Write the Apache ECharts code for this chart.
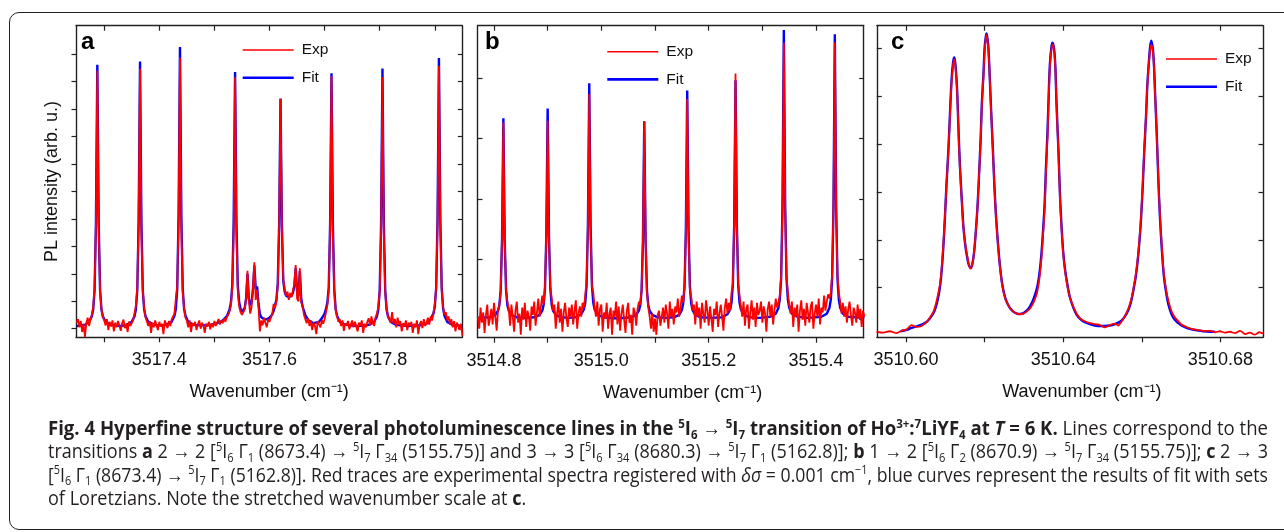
<!DOCTYPE html>
<html><head><meta charset="utf-8">
<script src="https://cdn.jsdelivr.net/npm/echarts@6/dist/echarts.min.js"></script>
<style>
html,body{margin:0;padding:0;background:#fff;width:1284px;height:532px;overflow:hidden;}
#frame{position:absolute;left:9px;top:12px;width:1300px;height:518px;border:1.7px solid #222;border-radius:10px;box-sizing:border-box;}
#chart{position:absolute;left:0;top:0;width:1284px;height:532px;}
#cap{position:absolute;left:48px;top:416px;width:1220px;font-family:"Liberation Sans Narrow","Open Sans","Noto Sans",sans-serif;font-size:19.5px;color:#231f20;}
.ln{height:23.3px;line-height:23.3px;white-space:nowrap;}
.ln .t{display:inline-block;transform-origin:0 50%;}
sup,sub{font-size:62%;line-height:0;position:relative;vertical-align:baseline;}
sup{top:-0.6em;} sub{top:0.3em;}
</style></head>
<body>
<div id="frame"></div>
<div id="chart"></div>
<div id="cap">
<div class="ln"><span class="t"><b>Fig. 4 Hyperfine structure of several photoluminescence lines in the <sup>5</sup>I<sub>6</sub> → <sup>5</sup>I<sub>7</sub> transition of Ho<sup>3+</sup>:<sup>7</sup>LiYF<sub>4</sub> at <i>T</i> = 6 K.</b> Lines correspond to the</span></div>
<div class="ln"><span class="t">transitions <b>a</b> 2 → 2 [<sup>5</sup>I<sub>6</sub> Γ<sub>1</sub> (8673.4) → <sup>5</sup>I<sub>7</sub> Γ<sub>34</sub> (5155.75)] and 3 → 3 [<sup>5</sup>I<sub>6</sub> Γ<sub>34</sub> (8680.3) → <sup>5</sup>I<sub>7</sub> Γ<sub>1</sub> (5162.8)]; <b>b</b> 1 → 2 [<sup>5</sup>I<sub>6</sub> Γ<sub>2</sub> (8670.9) → <sup>5</sup>I<sub>7</sub> Γ<sub>34</sub> (5155.75)]; <b>c</b> 2 → 3</span></div>
<div class="ln"><span class="t">[<sup>5</sup>I<sub>6</sub> Γ<sub>1</sub> (8673.4) → <sup>5</sup>I<sub>7</sub> Γ<sub>1</sub> (5162.8)]. Red traces are experimental spectra registered with <i>δσ</i> = 0.001 cm<sup>−1</sup>, blue curves represent the results of fit with sets</span></div>
<div class="ln"><span class="t">of Loretzians. Note the stretched wavenumber scale at <b>c</b>.</span></div>
</div>
<script>
// ---------- DATA ----------
// Panel a: experimental trace on a uniform grid (start, step), fit as [x, y]
const expAStart = 3517.25, expAStep = 0.0025;
const expA = [
0.22,0.35,0.05,0.28,-0.12,0.18,-0.30,0.20,0.40,0.10,
0.32,0.50,0.80,1.45,3.80,9.39,3.60,1.35,0.70,0.45,
0.30,0.12,0.35,-0.05,0.25,0.08,0.30,-0.10,0.22,0.05,
0.28,0.12,-0.08,0.20,0.33,0.02,0.18,-0.12,0.26,0.10,
0.20,0.32,0.55,0.85,1.50,3.90,9.46,3.50,1.40,0.75,
0.42,0.35,0.10,0.28,-0.15,0.22,0.05,0.30,0.12,-0.05,
0.25,0.08,0.18,-0.20,0.30,0.15,0.02,0.28,0.10,0.35,
0.30,0.55,1.10,1.55,4.00,9.87,3.70,1.35,0.72,0.40,
0.28,0.05,0.30,-0.12,0.20,0.10,0.25,-0.05,0.15,0.30,
0.00,0.22,0.12,-0.15,0.18,0.08,0.25,-0.02,0.20,0.05,
0.28,0.10,0.22,0.35,0.15,0.30,0.20,0.38,0.25,0.42,
0.50,0.62,0.85,1.50,3.60,9.16,3.40,1.30,0.80,0.60,
0.50,0.55,0.70,1.10,2.11,1.00,0.55,0.80,1.50,2.42,
1.05,1.41,0.80,-0.10,0.30,0.12,0.40,0.22,0.05,0.35,
0.25,0.40,0.55,0.90,0.75,1.00,1.60,3.80,8.36,3.60,
1.80,1.45,1.20,1.35,1.05,1.30,1.15,1.40,1.60,2.32,
1.10,1.00,2.20,0.95,0.85,0.50,0.45,0.20,0.38,0.10,
0.30,-0.05,0.22,0.10,-0.20,0.28,0.15,0.05,0.32,0.18,
0.35,0.60,0.85,1.40,3.70,9.20,3.50,1.35,0.70,0.45,
0.25,0.35,0.10,0.30,-0.08,0.20,0.12,0.28,-0.02,0.15,
0.30,0.05,0.25,0.18,-0.10,0.22,0.10,0.30,-0.15,0.18,
0.05,0.25,0.38,0.12,0.45,0.20,0.10,0.42,0.55,0.80,
1.35,3.60,9.16,3.40,1.30,0.75,0.45,0.50,0.22,0.60,
0.18,0.35,0.05,0.40,0.15,0.28,-0.10,0.20,0.08,0.30,
-0.05,0.22,0.10,0.25,-0.15,0.18,0.05,0.30,-0.20,0.15,
0.28,0.02,0.35,0.10,0.20,0.40,0.15,0.45,0.30,0.55,
0.90,1.50,3.90,9.57,3.70,1.40,0.80,0.50,0.60,0.30,
0.45,0.15,0.35,0.05,0.28,-0.10,0.22,0.10,-0.05,0.18,
-0.25
];
const fitA = [
[3517.25,0.10],[3517.265,0.14],[3517.2725,0.25],[3517.2775,0.45],[3517.28,0.70],[3517.2825,1.40],[3517.285,3.85],[3517.2875,9.61],[3517.29,3.85],[3517.2925,1.40],[3517.295,0.70],[3517.2975,0.45],[3517.3025,0.25],[3517.3125,0.14],[3517.33,0.10],
[3517.34,0.13],[3517.35,0.25],[3517.355,0.45],[3517.3575,0.70],[3517.36,1.40],[3517.3625,3.90],[3517.365,9.73],[3517.3675,3.90],[3517.37,1.40],[3517.3725,0.70],[3517.375,0.45],[3517.38,0.25],[3517.39,0.14],[3517.405,0.12],
[3517.4125,0.14],[3517.4225,0.25],[3517.4275,0.47],[3517.43,0.72],[3517.4325,1.45],[3517.435,4.10],[3517.4375,10.25],[3517.44,4.10],[3517.4425,1.45],[3517.445,0.72],[3517.4475,0.47],[3517.4525,0.25],[3517.4625,0.14],[3517.48,0.12],
[3517.495,0.15],[3517.505,0.20],[3517.515,0.30],[3517.5225,0.45],[3517.5275,0.70],[3517.53,0.95],[3517.5325,1.60],[3517.535,3.95],[3517.5375,9.34],[3517.54,3.85],[3517.5425,1.55],[3517.545,0.95],[3517.5475,0.72],[3517.55,0.62],[3517.5525,0.62],[3517.555,0.75],[3517.5575,1.10],[3517.56,2.00],[3517.5625,1.10],[3517.565,0.85],[3517.5675,0.95],[3517.57,1.45],[3517.5725,2.30],[3517.575,1.45],[3517.5775,1.53],[3517.58,0.90],[3517.5825,0.55],[3517.585,0.42],[3517.59,0.35],[3517.595,0.34],[3517.60,0.40],[3517.605,0.52],[3517.6075,0.65],[3517.61,0.85],[3517.6125,1.05],[3517.615,1.65],[3517.6175,3.80],[3517.62,8.38],[3517.6225,3.70],[3517.625,1.75],[3517.6275,1.35],[3517.63,1.20],[3517.635,1.15],[3517.64,1.20],[3517.6425,1.30],[3517.645,1.55],[3517.6475,2.20],[3517.65,1.40],[3517.6525,1.20],[3517.655,2.10],[3517.6575,1.10],[3517.66,0.80],[3517.665,0.50],[3517.67,0.32],[3517.68,0.20],[3517.69,0.25],[3517.695,0.38],[3517.70,0.55],[3517.7025,0.72],[3517.705,0.95],[3517.7075,1.50],[3517.71,3.80],[3517.7125,9.30],[3517.715,3.80],[3517.7175,1.45],[3517.72,0.72],[3517.7225,0.47],[3517.7275,0.25],[3517.7375,0.14],[3517.76,0.10],
[3517.78,0.14],[3517.79,0.25],[3517.795,0.45],[3517.7975,0.70],[3517.80,1.40],[3517.8025,3.80],[3517.805,9.47],[3517.8075,3.80],[3517.81,1.40],[3517.8125,0.70],[3517.815,0.45],[3517.82,0.25],[3517.83,0.14],[3517.85,0.10],
[3517.875,0.13],[3517.8875,0.20],[3517.8925,0.35],[3517.8975,0.55],[3517.90,0.80],[3517.9025,1.50],[3517.905,4.00],[3517.9075,9.85],[3517.91,4.00],[3517.9125,1.50],[3517.915,0.75],[3517.9175,0.47],[3517.9225,0.25],[3517.9325,0.14],[3517.95,0.10]
];

// Panel b
const expBStart = 3514.77, expBStep = 0.0025;
const expB = [
0.05,-0.15,0.20,-0.05,0.12,-0.22,0.08,0.25,-0.10,0.02,
0.18,-0.08,0.28,0.05,-0.18,0.15,0.25,0.45,1.35,3.27,
1.30,0.50,0.30,0.18,-0.10,0.25,0.05,-0.20,0.15,0.30,
-0.05,0.10,-0.25,0.20,0.00,0.28,-0.12,0.15,0.05,-0.18,
0.22,0.08,0.30,-0.10,0.12,0.35,0.05,0.22,0.40,0.25,
0.55,1.40,3.30,1.30,0.55,0.35,0.15,0.25,-0.15,0.10,
0.30,-0.05,0.18,-0.20,0.12,0.28,0.02,-0.12,0.20,0.05,
0.25,-0.08,0.15,0.32,-0.15,0.10,0.22,0.05,0.28,0.20,
0.40,0.65,1.55,3.74,1.45,0.55,0.45,0.20,0.05,0.30,
-0.10,0.18,0.25,-0.20,0.12,0.02,0.28,-0.15,0.10,0.20,
-0.25,0.15,0.05,0.30,-0.08,0.22,-0.18,0.10,0.25,0.00,
-0.22,0.15,0.28,-0.05,0.08,-0.25,0.20,0.12,-0.10,0.18,
0.30,0.25,0.50,1.30,3.29,1.35,0.45,0.20,0.05,-0.15,
0.10,-0.20,0.02,-0.25,0.08,0.15,-0.10,0.05,0.20,-0.05,
0.25,0.10,-0.15,0.30,0.05,0.18,-0.08,0.22,0.12,0.35,
0.05,0.20,0.40,0.28,0.55,1.45,3.66,1.40,0.50,0.38,
0.15,0.25,-0.08,0.30,0.05,0.20,-0.15,0.28,0.10,-0.05,
0.32,0.15,-0.10,0.22,0.02,-0.20,0.18,0.08,0.30,-0.12,
0.10,0.25,0.05,-0.18,0.20,0.35,0.10,0.28,0.15,0.45,
0.60,1.60,4.08,1.55,0.60,0.40,0.22,0.05,0.30,-0.10,
0.18,0.25,-0.15,0.12,0.32,0.00,0.20,-0.12,0.28,0.08,
0.15,0.30,-0.05,0.22,0.10,-0.20,0.18,0.30,0.05,0.25,
-0.08,0.15,0.35,0.20,0.28,0.40,0.72,1.85,4.59,1.80,
0.70,0.45,0.25,0.10,0.30,-0.12,0.20,0.05,0.25,-0.20,
0.15,0.32,0.00,0.18,-0.10,0.28,0.12,-0.05,0.22,0.30,
-0.15,0.10,0.25,0.05,0.35,-0.08,0.20,0.12,0.40,0.15,
0.30,0.42,0.35,0.45,0.75,1.90,4.60,1.80,0.72,0.45,
0.30,0.10,0.28,0.05,0.22,-0.05,0.18,0.30,0.08,-0.10,
0.20,0.12,-0.05,0.25,0.02,0.18,-0.12,0.15,0.05
];
const fitB = [
[3514.77,0.03],[3514.7925,0.04],[3514.8025,0.08],[3514.8075,0.15],[3514.81,0.24],[3514.8125,0.49],[3514.815,1.32],[3514.8175,3.34],[3514.82,1.32],[3514.8225,0.49],[3514.825,0.24],[3514.8275,0.15],[3514.8325,0.08],[3514.8425,0.04],[3514.86,0.03],
[3514.875,0.04],[3514.885,0.08],[3514.89,0.15],[3514.8925,0.25],[3514.895,0.51],[3514.8975,1.38],[3514.90,3.50],[3514.9025,1.38],[3514.905,0.51],[3514.9075,0.25],[3514.91,0.15],[3514.915,0.08],[3514.925,0.04],[3514.94,0.03],
[3514.9525,0.04],[3514.9625,0.09],[3514.9675,0.17],[3514.97,0.28],[3514.9725,0.57],[3514.975,1.55],[3514.9775,3.92],[3514.98,1.55],[3514.9825,0.57],[3514.985,0.28],[3514.9875,0.17],[3514.9925,0.09],[3515.0025,0.04],[3515.03,0.02],
[3515.055,0.04],[3515.065,0.08],[3515.07,0.15],[3515.0725,0.24],[3515.075,0.48],[3515.0775,1.30],[3515.08,3.29],[3515.0825,1.30],[3515.085,0.48],[3515.0875,0.24],[3515.09,0.15],[3515.095,0.08],[3515.105,0.04],[3515.12,0.03],
[3515.135,0.04],[3515.145,0.08],[3515.15,0.16],[3515.1525,0.27],[3515.155,0.55],[3515.1575,1.50],[3515.16,3.80],[3515.1625,1.50],[3515.165,0.55],[3515.1675,0.27],[3515.17,0.16],[3515.175,0.08],[3515.185,0.04],[3515.205,0.03],
[3515.225,0.04],[3515.235,0.09],[3515.24,0.17],[3515.2425,0.28],[3515.245,0.58],[3515.2475,1.57],[3515.25,3.97],[3515.2525,1.57],[3515.255,0.58],[3515.2575,0.28],[3515.26,0.17],[3515.265,0.09],[3515.275,0.04],[3515.295,0.03],
[3515.315,0.05],[3515.325,0.10],[3515.33,0.20],[3515.3325,0.34],[3515.335,0.69],[3515.3375,1.89],[3515.34,4.80],[3515.3425,1.89],[3515.345,0.69],[3515.3475,0.34],[3515.35,0.20],[3515.355,0.10],[3515.365,0.05],[3515.385,0.03],
[3515.41,0.05],[3515.42,0.10],[3515.425,0.20],[3515.4275,0.33],[3515.43,0.68],[3515.4325,1.86],[3515.435,4.73],[3515.4375,1.86],[3515.44,0.68],[3515.4425,0.33],[3515.445,0.20],[3515.45,0.10],[3515.46,0.05],[3515.49,0.03]
];

// Panel c (stretched scale): [wavenumber, intensity]
const expC = [
[3510.5925,0.08],[3510.5942,0.06],[3510.5959,0.09],[3510.5976,0.05],[3510.5989,0.10],[3510.6002,0.13],[3510.6014,0.22],[3510.6027,0.18],[3510.6040,0.20],[3510.6053,0.29],
[3510.6061,0.38],[3510.6070,0.50],[3510.6076,0.66],[3510.6082,0.88],[3510.6087,1.10],[3510.6091,1.44],[3510.6095,1.90],[3510.6099,2.48],[3510.6103,3.15],[3510.6108,3.87],
[3510.6112,4.62],[3510.6116,5.30],[3510.6120,5.66],[3510.6123,5.77],[3510.6126,5.60],[3510.6130,5.10],[3510.6133,4.40],[3510.6137,3.53],[3510.6142,2.80],[3510.6146,2.27],
[3510.6151,1.90],[3510.6156,1.65],[3510.6160,1.48],[3510.6165,1.40],[3510.6169,1.50],[3510.6173,1.72],[3510.6177,2.10],[3510.6182,2.69],[3510.6186,3.35],[3510.6190,4.08],
[3510.6193,4.80],[3510.6197,5.40],[3510.6200,5.95],[3510.6203,6.20],[3510.6205,6.28],[3510.6209,6.05],[3510.6212,5.61],[3510.6216,4.80],[3510.6221,3.87],[3510.6225,3.10],
[3510.6229,2.48],[3510.6234,1.90],[3510.6239,1.44],[3510.6244,1.10],[3510.6249,0.88],[3510.6254,0.74],[3510.6260,0.64],[3510.6266,0.56],[3510.6273,0.50],[3510.6282,0.46],
[3510.6290,0.45],[3510.6299,0.46],[3510.6307,0.50],[3510.6314,0.55],[3510.6320,0.62],[3510.6326,0.72],[3510.6333,0.88],[3510.6337,1.05],[3510.6341,1.30],[3510.6345,1.65],
[3510.6349,2.14],[3510.6353,2.70],[3510.6356,3.39],[3510.6360,4.15],[3510.6363,4.92],[3510.6366,5.60],[3510.6370,5.98],[3510.6373,6.08],[3510.6377,5.95],[3510.6380,5.60],
[3510.6383,4.80],[3510.6388,3.80],[3510.6392,2.83],[3510.6396,2.20],[3510.6400,1.72],[3510.6405,1.33],[3510.6411,1.02],[3510.6417,0.80],[3510.6426,0.60],[3510.6434,0.46],
[3510.6443,0.36],[3510.6455,0.30],[3510.6468,0.26],[3510.6481,0.24],[3510.6494,0.22],[3510.6506,0.17],[3510.6519,0.22],[3510.6532,0.25],[3510.6540,0.21],[3510.6549,0.30],
[3510.6557,0.40],[3510.6566,0.57],[3510.6573,0.75],[3510.6578,0.95],[3510.6585,1.30],[3510.6591,1.72],[3510.6597,2.35],[3510.6602,3.11],[3510.6606,3.85],[3510.6611,4.64],
[3510.6614,5.20],[3510.6618,5.68],[3510.6621,5.95],[3510.6624,6.07],[3510.6628,5.95],[3510.6631,5.61],[3510.6634,5.00],[3510.6638,4.22],[3510.6642,3.30],[3510.6646,2.55],
[3510.6651,1.85],[3510.6656,1.30],[3510.6662,0.95],[3510.6668,0.72],[3510.6676,0.50],[3510.6684,0.38],[3510.6693,0.30],[3510.6701,0.23],[3510.6714,0.18],[3510.6727,0.14],
[3510.6740,0.12],[3510.6757,0.10],[3510.6774,0.10],[3510.6786,0.07],[3510.6799,0.09],[3510.6812,0.06],[3510.6824,0.08],[3510.6837,0.05],[3510.6850,0.10],[3510.6863,0.03],
[3510.6875,0.06],[3510.6888,0.02],[3510.6899,0.07],[3510.6909,0.04]
];
const fitC = [
[3510.5986,0.09],[3510.6002,0.12],[3510.6014,0.16],[3510.6027,0.19],[3510.6040,0.23],[3510.6053,0.29],[3510.6061,0.36],[3510.6070,0.47],[3510.6076,0.60],[3510.6082,0.80],
[3510.6087,1.05],[3510.6091,1.38],[3510.6095,1.85],[3510.6099,2.45],[3510.6103,3.15],[3510.6108,3.90],[3510.6112,4.66],[3510.6116,5.35],[3510.6120,5.72],[3510.6123,5.81],
[3510.6126,5.65],[3510.6130,5.15],[3510.6133,4.45],[3510.6137,3.58],[3510.6142,2.83],[3510.6146,2.28],[3510.6151,1.88],[3510.6156,1.62],[3510.6160,1.47],[3510.6165,1.41],
[3510.6169,1.50],[3510.6173,1.72],[3510.6177,2.10],[3510.6182,2.70],[3510.6186,3.38],[3510.6190,4.12],[3510.6193,4.85],[3510.6197,5.45],[3510.6200,6.00],[3510.6203,6.24],
[3510.6205,6.31],[3510.6209,6.08],[3510.6212,5.62],[3510.6216,4.82],[3510.6221,3.90],[3510.6225,3.12],[3510.6229,2.50],[3510.6234,1.92],[3510.6239,1.46],[3510.6244,1.12],
[3510.6249,0.90],[3510.6254,0.75],[3510.6260,0.64],[3510.6266,0.56],[3510.6273,0.50],[3510.6282,0.46],[3510.6290,0.45],[3510.6299,0.47],[3510.6307,0.52],[3510.6314,0.59],
[3510.6320,0.68],[3510.6326,0.80],[3510.6333,0.98],[3510.6337,1.15],[3510.6341,1.40],[3510.6345,1.75],[3510.6349,2.22],[3510.6353,2.80],[3510.6356,3.48],[3510.6360,4.25],
[3510.6363,5.00],[3510.6366,5.65],[3510.6370,6.03],[3510.6373,6.12],[3510.6377,5.98],[3510.6380,5.62],[3510.6383,4.85],[3510.6388,3.85],[3510.6392,2.90],[3510.6396,2.25],
[3510.6400,1.75],[3510.6405,1.36],[3510.6411,1.05],[3510.6417,0.80],[3510.6426,0.58],[3510.6434,0.44],[3510.6443,0.35],[3510.6455,0.28],[3510.6468,0.24],[3510.6481,0.21],
[3510.6494,0.20],[3510.6506,0.20],[3510.6519,0.21],[3510.6532,0.24],[3510.6540,0.27],[3510.6549,0.32],[3510.6557,0.40],[3510.6566,0.54],[3510.6573,0.72],[3510.6578,0.92],
[3510.6585,1.25],[3510.6591,1.68],[3510.6597,2.30],[3510.6602,3.05],[3510.6606,3.80],[3510.6611,4.62],[3510.6614,5.22],[3510.6618,5.72],[3510.6621,6.02],[3510.6624,6.16],
[3510.6628,6.00],[3510.6631,5.65],[3510.6634,5.02],[3510.6638,4.22],[3510.6642,3.28],[3510.6646,2.50],[3510.6651,1.80],[3510.6656,1.26],[3510.6662,0.90],[3510.6668,0.64],
[3510.6676,0.44],[3510.6684,0.33],[3510.6693,0.26],[3510.6701,0.21],[3510.6714,0.16],[3510.6727,0.13],[3510.6740,0.11],[3510.6757,0.09],[3510.6774,0.08],[3510.6786,0.08]
];

// Ticks and labels
const xTicksA = [3517.3,3517.4,3517.5,3517.6,3517.7,3517.8,3517.9];
const xLabelsA = [3517.4,3517.6,3517.8];
const xTicksB = [3514.8,3514.9,3515.0,3515.1,3515.2,3515.3,3515.4];
const xLabelsB = [3514.8,3515.0,3515.2,3515.4];
const xTicksC = [3510.60,3510.62,3510.64,3510.66,3510.68];
const xLabelsC = [3510.60,3510.64,3510.68];
const yTicksA = [0,1,2,3,4,5,6,7,8,9,10];
const yTicksB = [0,1,2,3,4];
const yTicksC = [1,2,3,4,5,6];
const panelLetters = ['a','b','c'];
const seriesNames = ['Exp','Fit'];
const xName = 'Wavenumber (cm⁻¹)';
const yName = 'PL intensity (arb. u.)';

// ---------- CHART ----------
function gridPairs(start, step, ys){ return ys.map((y,i)=>[+(start+i*step).toFixed(4), y]); }

const FONT = '"Liberation Sans", Arial, Helvetica, sans-serif';
const TXT = '#111';
const AX = '#222';
// legend glyph: a plain horizontal stroke (invisible corner dots fix its box)
const ICON_THIN = 'path://M0,0h0.01v0.01h-0.01zM0,8.25h51v1.5h-51zM50.99,17.99h0.01v0.01h-0.01z';
const ICON_THICK = 'path://M0,0h0.01v0.01h-0.01zM0,7.7h51v2.6h-51zM50.99,17.99h0.01v0.01h-0.01z';

const panels = [
  {grid:{left:76, top:25.7, width:386.3, height:311.6}, xMin:3517.2488, xMax:3517.9499, yMin:-0.313, yMax:11.03,
   xTicks:xTicksA, xLabels:xLabelsA, dec:1, yTicks:yTicksA, leftOut:true, namePad:0,
   exp:gridPairs(expAStart, expAStep, expA), fit:fitA, smooth:false,
   legend:{left:242.7, top:41}, letter:{x:81, y:42.5}},
  {grid:{left:477.5, top:25.7, width:386.2, height:312}, xMin:3514.7693, xMax:3515.4888, yMin:-0.298, yMax:4.873,
   xTicks:xTicksB, xLabels:xLabelsB, dec:1, yTicks:yTicksB, leftOut:false, namePad:24,
   exp:gridPairs(expBStart, expBStep, expB), fit:fitB, smooth:false,
   legend:{left:607.3, top:42.7}, letter:{x:485, y:42.5}},
  {grid:{left:876.8, top:25.7, width:386.2, height:311.6}, xMin:3510.59257, xMax:3510.69084, yMin:-0.036, yMax:6.473,
   xTicks:xTicksC, xLabels:xLabelsC, dec:2, yTicks:yTicksC, leftOut:false, namePad:24,
   exp:expC, fit:fitC, smooth:0.3,
   legend:{left:1166, top:50}, letter:{x:891, y:42.5}}
];

const option = {backgroundColor:'transparent', animation:false, grid:[], xAxis:[], yAxis:[], series:[], legend:[], graphic:[]};
const lineAx = {show:true, onZero:false, lineStyle:{color:AX, width:1.4}};
panels.forEach((p,i)=>{
  option.grid.push(Object.assign({containLabel:false}, p.grid));
  option.xAxis.push({type:'value', gridIndex:i, position:'bottom', min:p.xMin, max:p.xMax,
    axisLine:lineAx, splitLine:{show:false},
    axisTick:{show:true, inside:false, length:5, customValues:p.xTicks, lineStyle:{color:AX, width:1.2}},
    axisLabel:{show:true, customValues:p.xLabels, formatter:v=>Number(v).toFixed(p.dec), margin:14,
      fontSize:18, color:TXT, fontFamily:FONT},
    name:xName, nameLocation:'middle', nameGap:46,
    nameTextStyle:{fontSize:18, color:TXT, fontFamily:FONT, padding:[0,0,0,p.namePad]}});
  option.xAxis.push({type:'value', gridIndex:i, position:'top', min:p.xMin, max:p.xMax,
    axisLine:lineAx, splitLine:{show:false},
    axisTick:{show:true, inside:true, length:5, customValues:p.xTicks, lineStyle:{color:AX, width:1.2}},
    axisLabel:{show:false}});
  const yl = {type:'value', gridIndex:i, position:'left', min:p.yMin, max:p.yMax,
    axisLine:lineAx, splitLine:{show:false},
    axisTick:{show:true, inside:!p.leftOut, length:p.leftOut?4.5:5, customValues:p.yTicks, lineStyle:{color:AX, width:1.2}},
    axisLabel:{show:false}};
  if(i===0){ Object.assign(yl, {name:yName, nameLocation:'middle', nameGap:15,
    nameTextStyle:{fontSize:18, color:TXT, fontFamily:FONT}}); }
  option.yAxis.push(yl);
  option.yAxis.push({type:'value', gridIndex:i, position:'right', min:p.yMin, max:p.yMax,
    axisLine:lineAx, splitLine:{show:false},
    axisTick:{show:true, inside:true, length:4.5, customValues:p.yTicks, lineStyle:{color:AX, width:1.2}},
    axisLabel:{show:false}});
  option.series.push({type:'line', name:seriesNames[1], xAxisIndex:2*i, yAxisIndex:2*i, data:p.fit,
    symbol:'none', showSymbol:false, smooth:p.smooth, z:2, silent:true,
    lineStyle:{color:'#0000ff', width:2.4}, itemStyle:{color:'#0000ff'}});
  option.series.push({type:'line', name:seriesNames[0], xAxisIndex:2*i, yAxisIndex:2*i, data:p.exp,
    symbol:'none', showSymbol:false, smooth:p.smooth, z:3, silent:true,
    lineStyle:{color:'#ff0000', width:1.8}, itemStyle:{color:'#ff0000'}});
  option.legend.push({left:p.legend.left, top:p.legend.top, orient:'vertical', padding:0,
    itemWidth:51, itemHeight:18, itemGap:9.7, selectedMode:false,
    data:[{name:seriesNames[0], icon:ICON_THIN, itemStyle:{color:'#ff0000', borderWidth:0}},
          {name:seriesNames[1], icon:ICON_THICK, itemStyle:{color:'#0000ff', borderWidth:0}}],
    lineStyle:{width:0, opacity:0},
    textStyle:{fontSize:15.5, color:TXT, fontFamily:FONT, padding:[0,0,0,3]}});
  option.graphic.push({type:'text', x:p.letter.x, y:p.letter.y, silent:true,
    style:{text:panelLetters[i], font:'bold 24px "Liberation Sans", Arial, sans-serif', fill:'#000',
      verticalAlign:'middle', textVerticalAlign:'middle'}});
});

const chart = echarts.init(document.getElementById('chart'), null, {renderer:'canvas'});
chart.setOption(option);

// fit caption lines to the justified width
(function(){
  const spans = Array.from(document.querySelectorAll('#cap .t'));
  const W = 1220; let scales = [];
  spans.forEach((s,i)=>{ if(i<3){ const w = s.getBoundingClientRect().width; const k = W/w; scales.push(k); s.style.transform='scaleX('+k+')'; } });
  const avg = scales.reduce((a,b)=>a+b,0)/scales.length;
  spans[3].style.transform = 'scaleX('+avg+')';
})();
</script>
</body></html>
